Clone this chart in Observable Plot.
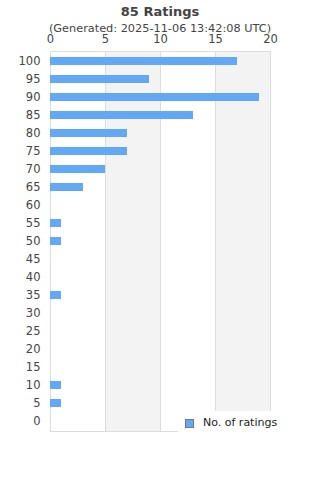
<!DOCTYPE html>
<html>
<head>
<meta charset="utf-8">
<script src="https://cdn.jsdelivr.net/npm/d3@7"></script>
<script src="https://cdn.jsdelivr.net/npm/@observablehq/plot@0.6"></script>
<style>
  body { margin: 0; background: #fff; font-family: "DejaVu Sans", sans-serif; }
  #wrap { position: relative; width: 320px; height: 480px; }
  #title { position: absolute; top: 4px; left: 0; width: 320px; text-align: center; font-weight: bold; font-size: 13px; color: #444; }
  #sub { position: absolute; top: 22px; left: 0; width: 320px; text-align: center; font-size: 11.3px; color: #444; }
  #legend { position: absolute; left: 178px; top: 411px; width: 142px; height: 21px; background: #fff; font-size: 11px; color: #222; }
  #legend .sw { position: absolute; left: 7px; top: 8px; width: 7px; height: 7px; border: 1px solid #777; }
  #legend .lb { position: absolute; left: 25px; top: 5px; }
  #chart { position: absolute; top: 0; left: 0; }
</style>
</head>
<body>
<div id="wrap">
  <div id="chart"></div>
  <div id="title"></div>
  <div id="sub"></div>
  <div id="legend"><div class="sw"></div><div class="lb"></div></div>
</div>
<script>
const title = "85 Ratings";
const subtitle = "(Generated: 2025-11-06 13:42:08 UTC)";
const seriesName = "No. of ratings";
const categories = ["100","95","90","85","80","75","70","65","60","55","50","45","40","35","30","25","20","15","10","5","0"];
const counts =     [17,   9,   19,  13,  7,   7,   5,   3,   0,   1,   1,   0,   0,   1,   0,   0,   0,   0,   1,   1,  0];
const xTicks = [0, 5, 10, 15, 20];
const barColor = "#62a8f5";

const data = categories.map((c, i) => ({ cat: c, n: counts[i] }));
const shaded = [];
for (let i = 1; i < xTicks.length; i += 2) shaded.push({ x1: xTicks[i], x2: xTicks[i + 1] });

document.getElementById("title").textContent = title;
document.getElementById("sub").textContent = subtitle;
document.querySelector("#legend .lb").textContent = seriesName;
document.querySelector("#legend .sw").style.background = barColor;

const chart = Plot.plot({
  width: 320,
  height: 480,
  marginTop: 51,
  marginBottom: 49,
  marginLeft: 50,
  marginRight: 50,
  style: { fontFamily: "DejaVu Sans, sans-serif", fontSize: "11px", color: "#444", background: "transparent" },
  x: { domain: [0, 20], axis: null },
  y: { domain: categories, paddingInner: 0.55, paddingOuter: 0.275, axis: null },
  marks: [
    Plot.rect(shaded, { x1: "x1", x2: "x2", fill: "#f3f3f3" }),
    Plot.ruleX(xTicks.slice(1, -1), { stroke: "#ddd" }),
    Plot.frame({ stroke: "#ddd" }),
    Plot.barX(data, { x: "n", y: "cat", fill: barColor }),
    Plot.axisX({ anchor: "top", ticks: xTicks, tickSize: 0, tickPadding: 9, label: null, fontSize: 11.5 }),
    Plot.axisY({ ticks: categories, tickSize: 0, tickPadding: 10, label: null, fontSize: 11.5 })
  ]
});
document.getElementById("chart").appendChild(chart);
</script>
</body>
</html>
